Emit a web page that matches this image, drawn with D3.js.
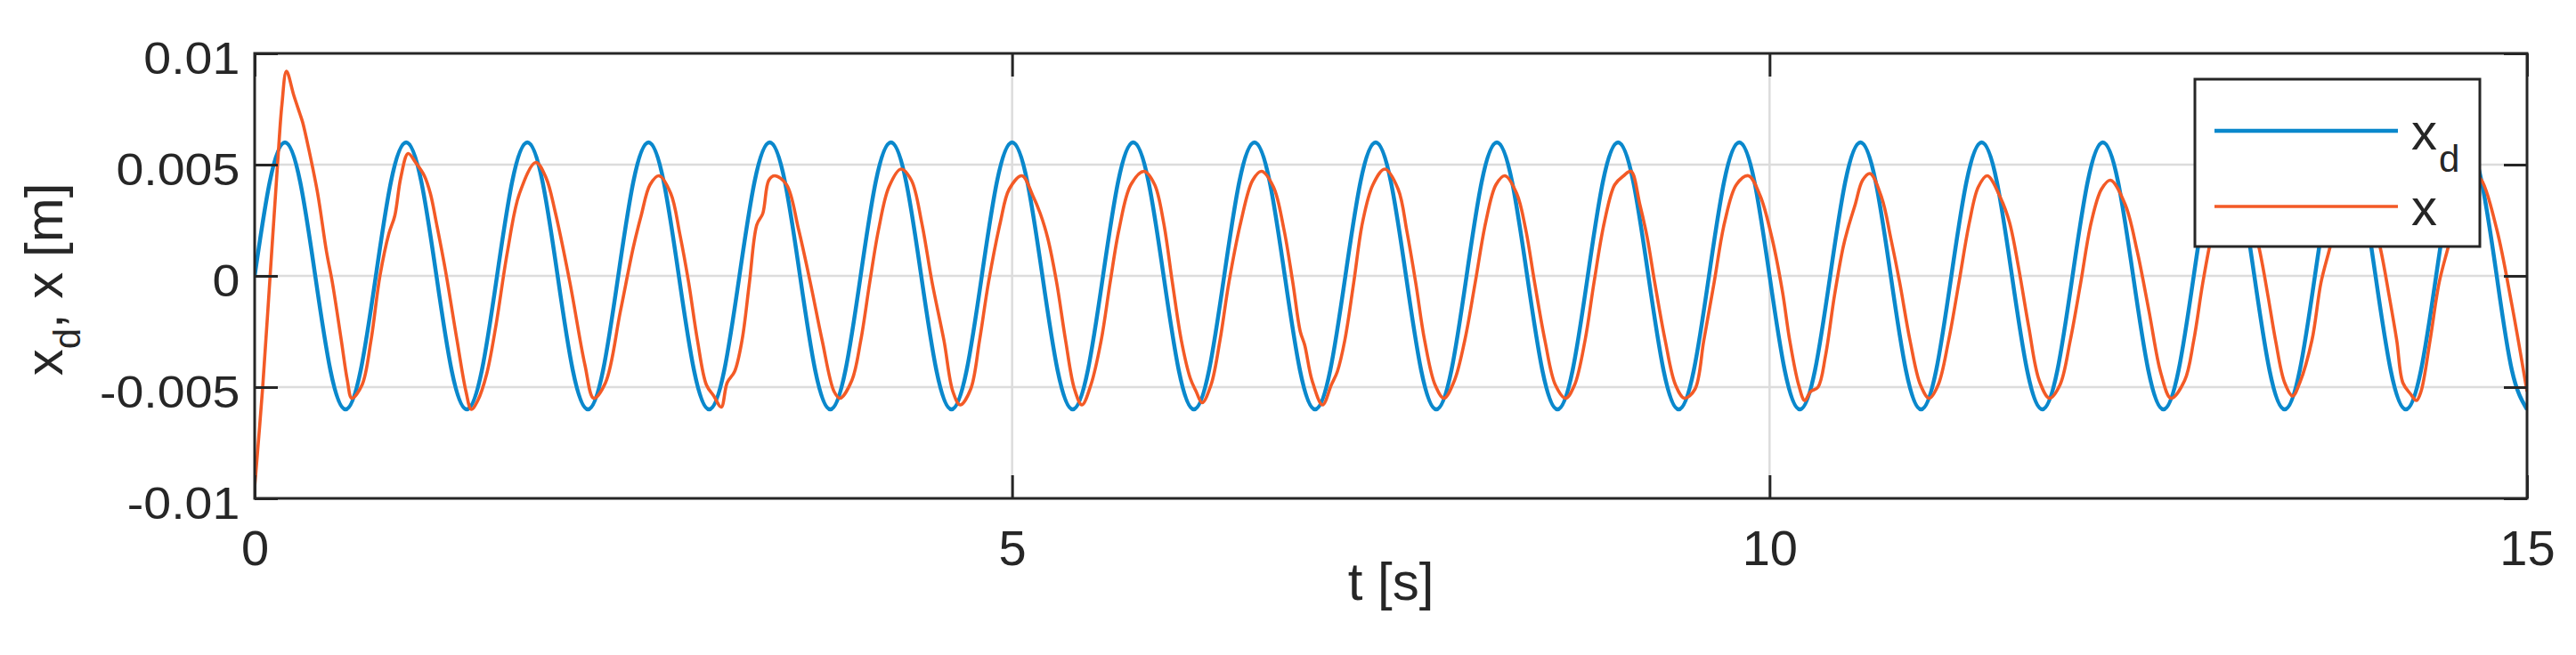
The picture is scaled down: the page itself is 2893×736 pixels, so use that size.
<!DOCTYPE html>
<html>
<head>
<meta charset="utf-8">
<script src="https://cdn.jsdelivr.net/npm/d3@7"></script>
<style>
html,body{margin:0;padding:0;background:#fff;}
svg{display:block;}
text{font-family:"Liberation Sans",Arial,Helvetica,sans-serif;fill:#262626;}
</style>
</head>
<body>
<svg id="chart" width="2893" height="736"></svg>
<script>
// ---------- data ----------
const xTicks = [0, 5, 10, 15];
const yTicks = [-0.01, -0.005, 0, 0.005, 0.01];
const xDomain = [0, 15];
const yDomain = [-0.01, 0.01];

// desired position x_d [mm], sampled every 0.1 s from t = 0 to t = 15
const tStep = 0.1;
const xdDesired_mm = [
  0, 4.24, 6, 4.24, 0, -4.24, -6, -4.24,
  0, 4.24, 6, 4.24, 0, -4.24, -6, -4.24,
  0, 4.24, 6, 4.24, 0, -4.24, -6, -4.24,
  0, 4.24, 6, 4.24, 0, -4.24, -6, -4.24,
  0, 4.24, 6, 4.24, 0, -4.24, -6, -4.24,
  0, 4.24, 6, 4.24, 0, -4.24, -6, -4.24,
  0, 4.24, 6, 4.24, 0, -4.24, -6, -4.24,
  0, 4.24, 6, 4.24, 0, -4.24, -6, -4.24,
  0, 4.24, 6, 4.24, 0, -4.24, -6, -4.24,
  0, 4.24, 6, 4.24, 0, -4.24, -6, -4.24,
  0, 4.24, 6, 4.24, 0, -4.24, -6, -4.24,
  0, 4.24, 6, 4.24, 0, -4.24, -6, -4.24,
  0, 4.24, 6, 4.24, 0, -4.24, -6, -4.24,
  0, 4.24, 6, 4.24, 0, -4.24, -6, -4.24,
  0, 4.24, 6, 4.24, 0, -4.24, -6, -4.24,
  0, 4.24, 6, 4.24, 0, -4.24, -6, -4.24,
  0, 4.24, 6, 4.24, 0, -4.24, -6, -4.24,
  0, 4.24, 6, 4.24, 0, -4.24, -6, -4.24,
  0, 4.24, 6, 4.24, 0, -4.24, -6
];

// measured position x: sample times [s]
const xTime = [
  0.000, 0.053, 0.102, 0.151, 0.180, 0.210, 0.259, 0.298, 0.317, 0.357, 0.416, 0.474, 0.513, 0.572, 0.612, 0.641,
  0.709, 0.768, 0.827, 0.886, 0.925, 0.964, 1.013, 1.062, 1.120, 1.160, 1.199, 1.258, 1.336, 1.395, 1.430,
  1.473, 1.532, 1.591, 1.669, 1.748, 1.856, 1.924, 1.983, 2.081, 2.180, 2.238,
  2.316, 2.414, 2.500, 2.551, 2.610, 2.669, 2.747, 2.806, 2.865, 2.923, 2.982, 3.031, 3.080,
  3.119, 3.168, 3.217, 3.266, 3.315, 3.354, 3.394, 3.433, 3.511, 3.590, 3.668, 3.746, 3.825, 3.864,
  3.942, 4.001, 4.060, 4.119, 4.187, 4.266, 4.335, 4.403, 4.472, 4.550, 4.609, 4.657,
  4.726, 4.785, 4.844, 4.922, 4.981, 5.065, 5.137, 5.186, 5.235, 5.294, 5.353, 5.412, 5.461,
  5.520, 5.588, 5.647, 5.706, 5.784, 5.872, 5.941, 6.000, 6.058, 6.117, 6.176, 6.215, 6.254,
  6.313, 6.372, 6.431, 6.509, 6.588, 6.646, 6.725, 6.794, 6.853, 6.902, 6.931, 6.980, 7.049,
  7.107, 7.147, 7.196, 7.255, 7.313, 7.382, 7.460, 7.548, 7.606, 7.664, 7.723, 7.792, 7.851,
  7.920, 7.988, 8.057, 8.126, 8.194, 8.253, 8.331, 8.390, 8.449, 8.517, 8.586, 8.654,
  8.713, 8.782, 8.841, 8.909, 8.978, 9.037, 9.085, 9.144, 9.193, 9.242, 9.311, 9.379, 9.438,
  9.507, 9.566, 9.634, 9.703, 9.781, 9.860, 9.938, 10.016, 10.085, 10.133, 10.192, 10.232,
  10.271, 10.320, 10.369, 10.428, 10.486, 10.516, 10.565, 10.614, 10.663, 10.741, 10.800, 10.859, 10.927, 10.996, 11.054,
  11.113, 11.182, 11.250, 11.319, 11.378, 11.437, 11.525, 11.584, 11.643, 11.711, 11.780, 11.848,
  11.917, 11.985, 12.054, 12.123, 12.191, 12.250, 12.348, 12.427, 12.505, 12.584, 12.650,
  12.740, 12.800, 12.860, 12.930, 13.000, 13.060, 13.130, 13.230, 13.290, 13.340, 13.400, 13.453,
  13.500, 13.580, 13.640, 13.700, 13.790, 13.860, 13.940, 14.030, 14.090, 14.140, 14.180, 14.230, 14.270,
  14.300, 14.360, 14.420, 14.480, 14.580, 14.660, 14.700, 14.800, 14.900, 15.000
];
// measured position x [mm] at those times
const xActual_mm = [
  -9.5, -5.0, 0.0, 5.0, 7.7, 9.2, 8.1, 7.3, 6.9, 5.7, 3.7, 1.1, -0.3, -2.9, -4.7, -5.5,
  -4.9, -2.9, 0.0, 1.9, 2.7, 4.4, 5.5, 5.1, 4.5, 3.7, 2.4, 0.3, -2.9, -5.2, -6.0,
  -5.6, -4.4, -2.3, 1.1, 3.7, 5.1, 4.4, 2.9, -0.3, -4.0, -5.5,
  -4.8, -1.6, 1.3, 2.7, 4.1, 4.5, 3.7, 1.9, -0.3, -2.9, -4.9, -5.4, -5.9,
  -4.8, -4.3, -2.9, -0.3, 2.3, 2.8, 4.3, 4.5, 4.1, 2.1, -0.3, -2.9, -5.2, -5.5,
  -4.7, -2.9, -0.3, 2.1, 4.0, 4.8, 4.3, 2.4, -0.3, -2.9, -5.2, -5.8,
  -5.1, -2.9, -0.3, 2.4, 3.9, 4.5, 3.6, 2.8, 1.7, -0.3, -2.9, -5.1, -5.8,
  -4.9, -2.9, -0.3, 2.1, 4.1, 4.7, 4.1, 2.4, -0.3, -2.9, -4.6, -5.2, -5.7,
  -4.9, -2.9, -0.3, 2.4, 4.3, 4.7, 4.0, 2.1, -0.3, -2.5, -3.1, -4.7, -5.8,
  -4.9, -4.3, -2.9, -0.3, 2.4, 4.1, 4.8, 3.9, 2.0, -0.3, -2.9, -4.9, -5.5,
  -4.7, -2.9, -0.3, 2.4, 4.1, 4.5, 3.7, 2.1, -0.3, -2.9, -4.9, -5.5,
  -4.9, -2.9, -0.3, 2.4, 4.1, 4.5, 4.7, 3.2, 1.7, -0.3, -2.9, -4.9, -5.5,
  -5.1, -2.9, -0.3, 2.4, 4.1, 4.5, 3.6, 1.7, -0.7, -2.9, -4.9, -5.6,
  -5.2, -5.0, -3.6, -0.9, 1.3, 2.1, 3.2, 4.3, 4.6, 3.5, 1.7, -0.3, -2.9, -4.9, -5.5,
  -4.9, -2.9, -0.3, 2.4, 4.0, 4.5, 3.5, 2.4, 0.4, -2.3, -4.7, -5.5,
  -4.9, -2.9, -0.3, 2.4, 3.9, 4.3, 3.2, 1.1, -1.6, -4.4, -5.5,
  -4.7, -2.9, -0.3, 2.2, 4.0, 4.5, 3.9, 1.3, -0.9, -2.9, -4.8, -5.4,
  -4.8, -2.9, -0.3, 1.3, 3.9, 4.5, 3.6, 1.3, -0.9, -2.9, -4.8, -5.3, -5.6,
  -5.2, -2.9, -0.3, 1.3, 3.9, 4.5, 4.3, 2.1, -1.3, -5.2
];

const legendLabels = [{main: "x", sub: "d"}, {main: "x", sub: ""}];
const seriesColors = ["#0a88cc", "#f35a26"];

// ---------- layout ----------
const W = 2893, H = 736;
const m = {left: 286, right: 2838, top: 60, bottom: 560};
const axisColor = "#262626";
const gridColor = "#dcdcdc";
const tickLen = 26;

const svg = d3.select("#chart");
svg.append("rect").attr("width", W).attr("height", H).attr("fill", "#fff");

const x = d3.scaleLinear().domain(xDomain).range([m.left, m.right]);
const y = d3.scaleLinear().domain(yDomain).range([m.bottom, m.top]);

// grid
const grid = svg.append("g");
grid.selectAll("line.h").data(yTicks.filter(v => v > yDomain[0] && v < yDomain[1]))
  .join("line").attr("class", "h")
  .attr("x1", m.left).attr("x2", m.right)
  .attr("y1", d => y(d)).attr("y2", d => y(d))
  .attr("stroke", gridColor).attr("stroke-width", 2.5);
grid.selectAll("line.v").data(xTicks.filter(v => v > xDomain[0] && v < xDomain[1]))
  .join("line").attr("class", "v")
  .attr("y1", m.top).attr("y2", m.bottom)
  .attr("x1", d => x(d)).attr("x2", d => x(d))
  .attr("stroke", gridColor).attr("stroke-width", 2.5);

// clip
svg.append("clipPath").attr("id", "plotClip").append("rect")
  .attr("x", m.left).attr("y", m.top).attr("width", m.right - m.left).attr("height", m.bottom - m.top);

const plot = svg.append("g").attr("clip-path", "url(#plotClip)");

const lineXd = d3.line()
  .x((d, i) => x(i * tStep))
  .y(d => y(d * 1e-3))
  .curve(d3.curveNatural);
const lineX = d3.line()
  .x((d, i) => x(xTime[i]))
  .y(d => y(d * 1e-3))
  .curve(d3.curveCatmullRom.alpha(0.5));

plot.append("path").datum(xdDesired_mm)
  .attr("d", lineXd).attr("fill", "none")
  .attr("stroke", seriesColors[0]).attr("stroke-width", 4.5).attr("stroke-linejoin", "round");
plot.append("path").datum(xActual_mm)
  .attr("d", lineX).attr("fill", "none")
  .attr("stroke", seriesColors[1]).attr("stroke-width", 3.6).attr("stroke-linejoin", "round");

// axes (ticks inward on all four sides)
function styleAxis(g) {
  g.select(".domain").remove();
  g.selectAll(".tick line").attr("stroke", axisColor).attr("stroke-width", 3);
}
const gBottom = svg.append("g").attr("transform", `translate(0,${m.bottom})`)
  .call(d3.axisBottom(x).tickValues(xTicks).tickSize(-tickLen).tickPadding(35).tickFormat(d => String(d)));
styleAxis(gBottom);
gBottom.selectAll(".tick text").attr("font-size", 56).attr("fill", axisColor)
  .style("font-family", '"Liberation Sans", Arial, sans-serif');

const gTop = svg.append("g").attr("transform", `translate(0,${m.top})`)
  .call(d3.axisTop(x).tickValues(xTicks).tickSize(-tickLen).tickFormat(""));
styleAxis(gTop);

const gLeft = svg.append("g").attr("transform", `translate(${m.left},0)`)
  .call(d3.axisLeft(y).tickValues(yTicks).tickSize(-tickLen).tickPadding(15).tickFormat(d => String(d)));
styleAxis(gLeft);
gLeft.selectAll(".tick text").attr("font-size", 50).attr("fill", axisColor)
  .attr("dy", "0.45em").attr("transform", "scale(1.11,1)")
  .style("font-family", '"Liberation Sans", Arial, sans-serif');

const gRight = svg.append("g").attr("transform", `translate(${m.right},0)`)
  .call(d3.axisRight(y).tickValues(yTicks).tickSize(-tickLen).tickFormat(""));
styleAxis(gRight);

// box
svg.append("rect")
  .attr("x", m.left).attr("y", m.top)
  .attr("width", m.right - m.left).attr("height", m.bottom - m.top)
  .attr("fill", "none").attr("stroke", axisColor).attr("stroke-width", 3);

// axis labels
svg.append("text")
  .attr("x", (m.left + m.right) / 2).attr("y", 674)
  .attr("text-anchor", "middle").attr("font-size", 60)
  .text("t [s]");

const yl = svg.append("text")
  .attr("transform", `translate(70,${(m.top + m.bottom) / 2 + 4}) rotate(-90)`)
  .attr("text-anchor", "middle").attr("font-size", 60);
yl.append("tspan").text("x");
yl.append("tspan").attr("font-size", 42).attr("dy", 20).text("d");
yl.append("tspan").attr("dy", -20).text(", x [m]");

// legend
const lg = svg.append("g");
lg.append("rect").attr("x", 2465).attr("y", 89).attr("width", 320).attr("height", 188)
  .attr("fill", "#fff").attr("stroke", axisColor).attr("stroke-width", 3);
const rowsY = [147, 232];
legendLabels.forEach((lab, i) => {
  lg.append("line").attr("x1", 2487).attr("x2", 2693)
    .attr("y1", rowsY[i]).attr("y2", rowsY[i])
    .attr("stroke", seriesColors[i]).attr("stroke-width", i === 0 ? 4.5 : 3.6);
  const t = lg.append("text").attr("x", 2708).attr("y", rowsY[i] + 21).attr("font-size", 58).attr("fill", "#111");
  t.append("tspan").text(lab.main);
  if (lab.sub) t.append("tspan").attr("font-size", 42).attr("dy", 25).attr("dx", 2).text(lab.sub);
});
</script>
</body>
</html>
